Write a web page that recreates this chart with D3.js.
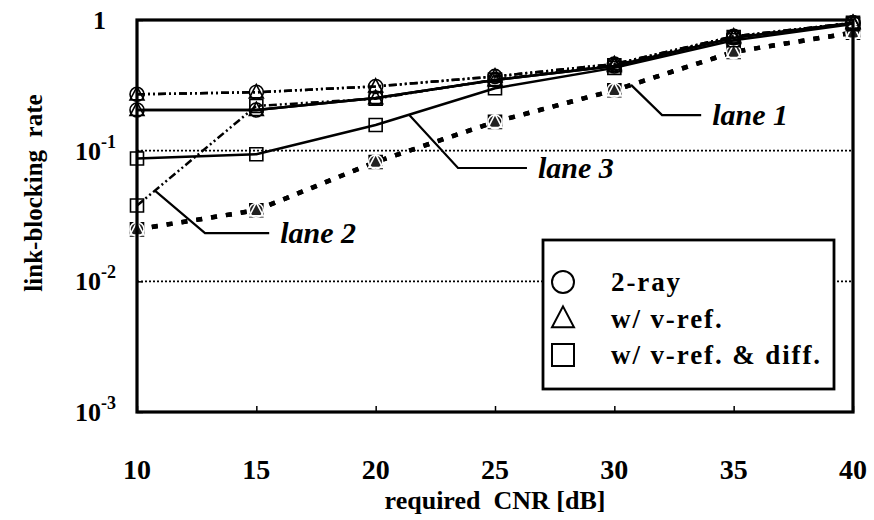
<!DOCTYPE html>
<html>
<head>
<meta charset="utf-8">
<script src="https://cdn.jsdelivr.net/npm/d3@7"></script>
<style>
  body { margin: 0; background: #fff; }
  svg text { font-family: Liberation Serif, serif; font-weight: bold; fill: #000; }
</style>
</head>
<body>
<div id="vis"></div>
<script>
// values
const cnr = [10, 15, 20, 25, 30, 35, 40];
const yTicks = [1, 0.1, 0.01, 0.001];
const yTickExp = ['', '-1', '-2', '-3'];
const gridValues = [0.1, 0.01];

const lane1 = [0.025, 0.035, 0.082, 0.166, 0.29, 0.57, 0.80];
const lane2TwoRay = [0.27, 0.28, 0.31, 0.37, 0.46, 0.75, 0.95];
const lane2VRef = [0.27, 0.28, 0.31, 0.37, 0.46, 0.75, 0.95];
const lane2VRefDiff = [0.038, 0.22, 0.25, 0.35, 0.45, 0.74, 0.95];
const lane3TwoRay = [0.205, 0.205, 0.253, 0.347, 0.445, 0.73, 0.95];
const lane3VRef = [0.205, 0.205, 0.253, 0.347, 0.445, 0.73, 0.95];
const lane3VRefDiff = [0.087, 0.094, 0.157, 0.30, 0.43, 0.70, 0.93];

const legendNames = ['2-ray', 'w/ v-ref.', 'w/ v-ref. & diff.'];
const legendShapes = ['circle', 'triangle', 'square'];

const width = 874;
const height = 520;
const margin = { top: 20, right: 21, bottom: 108, left: 137 };
const serif = 'Liberation Serif';

const x = d3.scaleLinear().domain([10, 40]).range([margin.left, width - margin.right]);
const y = d3.scaleLog().domain([0.001, 1]).range([height - margin.bottom, margin.top]);

const lineStyles = {
  lane1: { dash: '6,9', width: 4.5 },
  lane2: { dash: '8,3,2,3,2,3', width: 2.5 },
  lane3: { dash: null, width: 2.5 }
};

const series = [
  { lane: 'lane1', shape: 'square', values: lane1 },
  { lane: 'lane1', shape: 'circle', values: lane1 },
  { lane: 'lane1', shape: 'triangle', values: lane1 },
  { lane: 'lane2', shape: 'circle', values: lane2TwoRay },
  { lane: 'lane2', shape: 'triangle', values: lane2VRef },
  { lane: 'lane2', shape: 'square', values: lane2VRefDiff },
  { lane: 'lane3', shape: 'circle', values: lane3TwoRay },
  { lane: 'lane3', shape: 'triangle', values: lane3VRef },
  { lane: 'lane3', shape: 'square', values: lane3VRefDiff }
];

// label placement in data space: anchor on curve, elbow x, text position
const laneLabels = [
  { text: 'lane 1', values: lane1, at: 30.7, elbow: 32.0, tx: 34.1, ty: 0.187 },
  { text: 'lane 3', values: lane3VRefDiff, at: 21.4, elbow: 23.45, tx: 26.8, ty: 0.0737 },
  { text: 'lane 2', values: lane2VRefDiff, at: 10.75, elbow: 12.85, tx: 16.0, ty: 0.0234 }
];

const svg = d3.select('#vis').append('svg')
  .attr('width', width)
  .attr('height', height)
  .attr('font-family', serif)
  .attr('font-weight', 'bold');

// gridlines
svg.selectAll('.grid')
  .data(gridValues)
  .enter().append('line')
  .attr('x1', x(10)).attr('x2', x(40))
  .attr('y1', d => y(d)).attr('y2', d => y(d))
  .attr('stroke', '#000')
  .attr('stroke-width', 1.6)
  .attr('stroke-dasharray', '2,2');

// inward ticks
svg.append('g')
  .attr('transform', `translate(0,${y(0.001)})`)
  .call(d3.axisBottom(x).tickValues(cnr).tickSize(-6).tickFormat(''))
  .call(g => g.select('.domain').remove())
  .call(g => g.selectAll('line').attr('stroke-width', 1.5));

svg.append('g')
  .attr('transform', `translate(${x(10)},0)`)
  .call(d3.axisLeft(y).tickValues(yTicks).tickSize(-6).tickFormat(''))
  .call(g => g.select('.domain').remove())
  .call(g => g.selectAll('line').attr('stroke-width', 1.5));

// lines
const line = d3.line()
  .x((d, i) => x(cnr[i]))
  .y(d => y(d));

const lineSeries = series.filter(s => s.shape !== 'square' || s.lane !== 'lane1');
svg.selectAll('.curve')
  .data(lineSeries)
  .enter().append('path')
  .attr('d', d => line(d.values))
  .attr('fill', 'none')
  .attr('stroke', '#000')
  .attr('stroke-width', d => lineStyles[d.lane].width)
  .attr('stroke-dasharray', d => lineStyles[d.lane].dash);

// markers
function shapePath(shape, size) {
  const s = size / 2;
  if (shape === 'square') return `M${-s},${-s}H${s}V${s}H${-s}Z`;
  if (shape === 'triangle') return `M0,${-s * 1.1}L${s},${s * 0.8}H${-s}Z`;
  return d3.arc()({ innerRadius: 0, outerRadius: s, startAngle: 0, endAngle: 2 * Math.PI });
}

series.forEach(s => {
  svg.selectAll(null)
    .data(s.values)
    .enter().append('path')
    .attr('transform', (d, i) => `translate(${x(cnr[i])},${y(d)})`)
    .attr('d', shapePath(s.shape, s.shape === 'square' ? 13 : 14))
    .attr('fill', s.lane === 'lane1' && s.shape === 'square' ? '#222' : 'none')
    .attr('stroke', s.lane === 'lane1' && s.shape !== 'square' ? '#fff' : '#000')
    .attr('stroke-width', 1.6);
});

// frame
svg.append('rect')
  .attr('x', x(10)).attr('y', y(1))
  .attr('width', x(40) - x(10))
  .attr('height', y(0.001) - y(1))
  .attr('fill', 'none')
  .attr('stroke', '#000')
  .attr('stroke-width', 3.2);

// lane labels
function valueAt(values, xv) {
  const i = Math.min(d3.bisectRight(cnr, xv) - 1, cnr.length - 2);
  const t = (xv - cnr[i]) / (cnr[i + 1] - cnr[i]);
  const a = Math.log10(values[i]);
  const b = Math.log10(values[i + 1]);
  return Math.pow(10, a + (b - a) * t);
}

function label(sel, size) {
  return sel.style('font-family', serif)
    .style('font-weight', 'bold')
    .style('font-size', size + 'px');
}

laneLabels.forEach(l => {
  const ax = x(l.at), ay = y(valueAt(l.values, l.at));
  const ly = y(l.ty);
  svg.append('path')
    .attr('d', `M${ax},${ay}L${x(l.elbow)},${ly}H${x(l.tx) - 11}`)
    .attr('fill', 'none')
    .attr('stroke', '#000')
    .attr('stroke-width', 2.2);
  svg.append('text')
    .attr('x', x(l.tx))
    .attr('y', ly + 10)
    .call(label, 30)
    .style('font-style', 'italic')
    .text(l.text);
});

// legend
const legend = svg.append('g').attr('transform', 'translate(543,240)');
legend.append('rect')
  .attr('width', 291).attr('height', 149)
  .attr('fill', '#fff')
  .attr('stroke', '#000')
  .attr('stroke-width', 2.8);

const legendItem = legend.selectAll('.item')
  .data(legendNames)
  .enter().append('g')
  .attr('transform', (d, i) => `translate(0,${42 + i * 36.5})`);

legendItem.append('path')
  .attr('transform', 'translate(20,0)')
  .attr('d', (d, i) => shapePath(legendShapes[i], 22))
  .attr('fill', 'none')
  .attr('stroke', '#000')
  .attr('stroke-width', 2);

legendItem.append('text')
  .attr('x', 68)
  .attr('y', 9)
  .call(label, 27)
  .style('letter-spacing', '1.9px')
  .text(d => d);

// tick labels
const yLabels = svg.selectAll('.ylab')
  .data(yTicks)
  .enter().append('text')
  .attr('x', 116)
  .attr('y', d => y(d) + 9)
  .attr('text-anchor', 'end')
  .call(label, 26);
yLabels.append('tspan').text((d, i) => i === 0 ? '1' : '10');
yLabels.append('tspan')
  .attr('dy', -12)
  .style('font-size', '18px')
  .text((d, i) => yTickExp[i]);
yLabels.filter((d, i) => i === 0).attr('x', 106);

svg.selectAll('.xlab')
  .data(cnr)
  .enter().append('text')
  .attr('x', d => x(d))
  .attr('y', 479)
  .attr('text-anchor', 'middle')
  .call(label, 28)
  .text(d => d);

svg.append('text')
  .attr('x', x(25))
  .attr('y', 509)
  .attr('text-anchor', 'middle')
  .call(label, 26)
  .style('white-space', 'pre')
  .text('required  CNR [dB]');

svg.append('text')
  .attr('transform', 'translate(42,193) rotate(-90)')
  .attr('text-anchor', 'middle')
  .call(label, 25)
  .style('white-space', 'pre')
  .text('link-blocking  rate');
</script>
</body>
</html>
